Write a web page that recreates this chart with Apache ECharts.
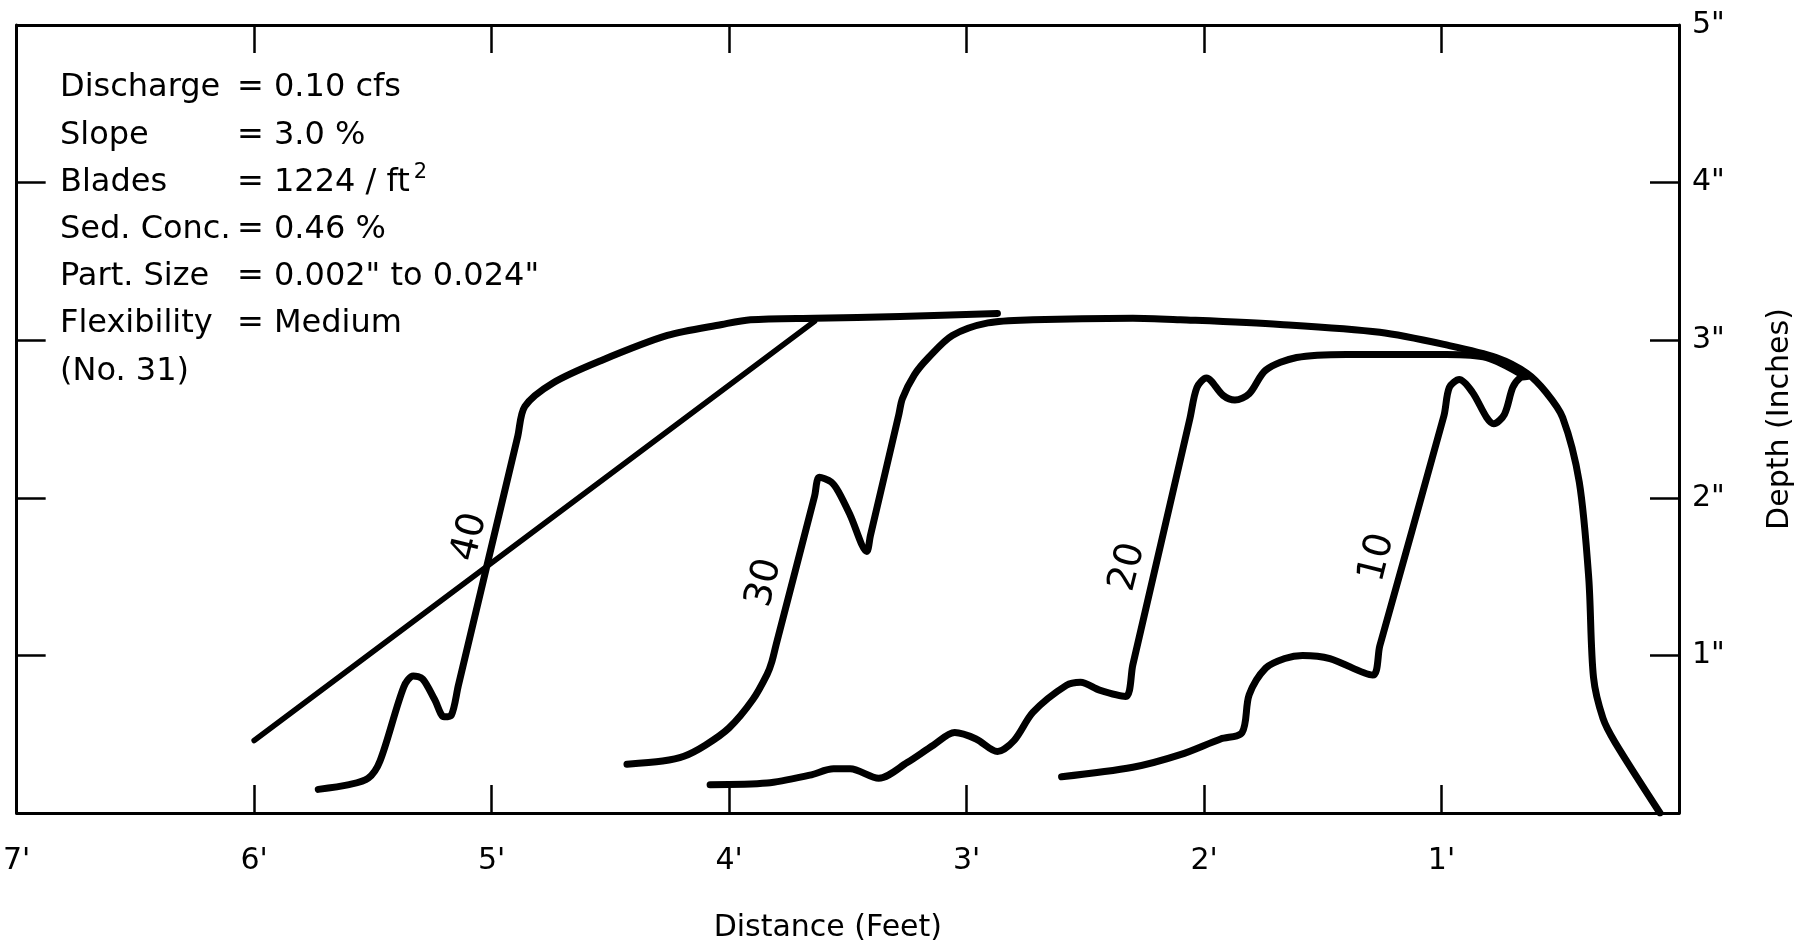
<!DOCTYPE html>
<html>
<head>
<meta charset="utf-8">
<title>Depth profiles No. 31</title>
<script src="https://cdn.jsdelivr.net/npm/echarts@6/dist/echarts.min.js"></script>
<style>
    html, body { margin: 0; padding: 0; background: #fff; }
    #chart { width: 1807px; height: 948px; }
</style>
</head>
<body>
<div id="chart"></div>
<script>
// distance (feet, counted from the right end) / depth (inches)
var run40 = [[5.73, 0.15], [5.60, 0.18], [5.52, 0.22], [5.47, 0.33], [5.37, 0.80], [5.33, 0.87],
    [5.29, 0.85], [5.24, 0.72], [5.20, 0.61], [5.17, 0.62], [5.14, 0.81], [4.89, 2.39], [4.86, 2.58],
    [4.74, 2.73], [4.54, 2.87], [4.26, 3.03], [4.03, 3.10], [3.91, 3.13], [3.64, 3.14], [3.28, 3.15],
    [2.87, 3.17]];
var run30 = [[4.43, 0.31], [4.28, 0.33], [4.19, 0.36], [4.10, 0.43], [4.00, 0.54], [3.90, 0.72],
    [3.84, 0.88], [3.82, 0.96], [3.80, 1.08], [3.64, 2.01], [3.62, 2.13], [3.57, 2.10], [3.54, 2.04],
    [3.49, 1.89], [3.42, 1.66], [3.405, 1.76], [3.285, 2.53], [3.27, 2.63], [3.22, 2.78], [3.16, 2.89],
    [3.06, 3.03], [2.91, 3.11], [2.72, 3.13], [2.30, 3.14], [2.10, 3.13], [1.68, 3.10], [1.26, 3.05],
    [0.98, 2.97], [0.77, 2.89], [0.64, 2.79], [0.56, 2.67], [0.49, 2.51], [0.42, 2.10], [0.38, 1.49],
    [0.36, 0.86], [0.32, 0.60], [0.27, 0.45], [0.08, 0.0]];
var run20 = [[4.08, 0.18], [3.84, 0.19], [3.66, 0.24], [3.56, 0.28], [3.49, 0.28], [3.37, 0.22],
    [3.25, 0.32], [3.14, 0.43], [3.05, 0.51], [2.96, 0.47], [2.87, 0.39], [2.80, 0.46], [2.72, 0.64],
    [2.58, 0.81], [2.52, 0.83], [2.44, 0.78], [2.33, 0.74], [2.30, 0.94], [2.06, 2.50], [2.03, 2.70],
    [1.99, 2.76], [1.92, 2.65], [1.87, 2.62], [1.81, 2.66], [1.74, 2.81], [1.61, 2.89], [1.40, 2.91],
    [0.98, 2.91], [0.81, 2.89], [0.66, 2.78]];
var run10 = [[2.60, 0.23], [2.30, 0.29], [2.10, 0.37], [1.93, 0.47], [1.84, 0.51], [1.81, 0.75],
    [1.74, 0.92], [1.66, 0.98], [1.585, 1.0], [1.47, 0.98], [1.29, 0.875], [1.26, 1.06], [0.99, 2.52],
    [0.967, 2.70], [0.925, 2.75], [0.87, 2.67], [0.81, 2.51], [0.78, 2.47], [0.735, 2.53], [0.70, 2.70],
    [0.67, 2.76], [0.64, 2.77]];
var slopeLine = [[6.0, 0.46], [3.64, 3.12]];

var runNames = ["40", "30", "20", "10"];
var runLabelX = [5.09, 3.85, 2.32, 1.27];
var runLabelY = [1.75, 1.46, 1.56, 1.62];

var distTicks = [0, 1, 2, 3, 4, 5, 6, 7];
var depthTicks = [0, 1, 2, 3, 4, 5];

var infoLabels = ["Discharge", "Slope", "Blades", "Sed. Conc.", "Part. Size", "Flexibility", "(No. 31)"];
var infoValues = ["= 0.10 cfs", "= 3.0 %", "= 1224 / ft", "= 0.46 %", "= 0.002\" to 0.024\"", "= Medium", ""];
var infoSup = ["", "", "2", "", "", "", ""];

var FONT = "DejaVu Sans";

var myChart = echarts.init(document.getElementById("chart"));

var lineStyleAxis = {color: "#000", width: 3};
var tickStyle = {color: "#000", width: 2.5};

// text block in the upper left corner
var infoText = [];
infoLabels.map(function (item, index) {
    var txt = "{a|" + item + "}";
    if (infoValues[index]) txt += "{b|" + infoValues[index] + "}";
    if (infoSup[index]) txt += "{s|" + infoSup[index] + "}";
    infoText.push({
        type: "text",
        x: 60,
        y: 88 + index * 47.2,
        style: {
            text: txt,
            verticalAlign: "middle",
            fill: "#000",
            rich: {
                a: {fontFamily: FONT, fontSize: 32, width: 177, color: "#000"},
                b: {fontFamily: FONT, fontSize: 32, color: "#000"},
                s: {fontFamily: FONT, fontSize: 21, color: "#000", padding: [0, 0, 20, 4]}
            }
        }
    });
});

var curveSeries = function (data, width, smooth) {
    return {
        type: "line",
        data: data,
        symbol: "none",
        smooth: smooth,
        lineStyle: {color: "#000", width: width, cap: "round", join: "round"},
        silent: true
    };
};

var labelData = runNames.map(function (n, i) {
    return {name: n, value: [runLabelX[i], runLabelY[i]]};
});

// frame axes: ticks point into the plot, no line on zero
var frameX = function (pos, showLabel) {
    return {
        type: "value",
        position: pos,
        min: distTicks[0],
        max: distTicks[distTicks.length - 1],
        interval: 1,
        inverse: true,
        axisLine: {show: true, onZero: false, lineStyle: lineStyleAxis},
        axisTick: {show: true, inside: true, length: 28, lineStyle: tickStyle},
        axisLabel: {
            show: showLabel, margin: 33, fontSize: 30, color: "#000", fontFamily: FONT,
            formatter: function (v) { return v === 0 ? "" : v + "'"; }
        },
        splitLine: {show: false}
    };
};
var frameY = function (pos, showLabel) {
    return {
        type: "value",
        position: pos,
        min: depthTicks[0],
        max: depthTicks[depthTicks.length - 1],
        interval: 1,
        axisLine: {show: true, onZero: false, lineStyle: lineStyleAxis},
        axisTick: {show: true, inside: true, length: 29, lineStyle: tickStyle},
        axisLabel: {
            show: showLabel, margin: 13, fontSize: 30, color: "#000", fontFamily: FONT,
            formatter: function (v) { return v === 0 ? "" : v + "\""; }
        },
        splitLine: {show: false}
    };
};

var xBottom = frameX("bottom", true);
xBottom.name = "Distance (Feet)";
xBottom.nameLocation = "middle";
xBottom.nameGap = 100;
xBottom.nameTextStyle = {fontSize: 30, color: "#000", fontFamily: FONT, padding: [0, 40, 0, 0]};

var yRight = frameY("right", true);
yRight.name = "Depth (Inches)";
yRight.nameLocation = "middle";
yRight.nameRotate = 90;
yRight.nameGap = 86;
yRight.nameTextStyle = {fontSize: 30, color: "#000", fontFamily: FONT};

var option = {
    animation: false,
    backgroundColor: "#fff",
    grid: {left: 15, right: 128, top: 25, bottom: 135, containLabel: false},
    xAxis: [xBottom, frameX("top", false)],
    yAxis: [yRight, frameY("left", false)],
    series: [
        curveSeries(run40, 7, 0.3),
        curveSeries(run30, 7, 0.3),
        curveSeries(run20, 7, 0.3),
        curveSeries(run10, 7, 0.3),
        curveSeries(slopeLine, 5.5, false),
        {
            type: "scatter",
            data: labelData,
            symbolSize: 0,
            silent: true,
            itemStyle: {opacity: 1},
            label: {
                show: true,
                position: "inside",
                rotate: 76,
                formatter: "{b}",
                fontSize: 38,
                fontFamily: FONT,
                color: "#000",
                opacity: 1
            }
        }
    ],
    graphic: infoText
};

myChart.setOption(option);
</script>
</body>
</html>
